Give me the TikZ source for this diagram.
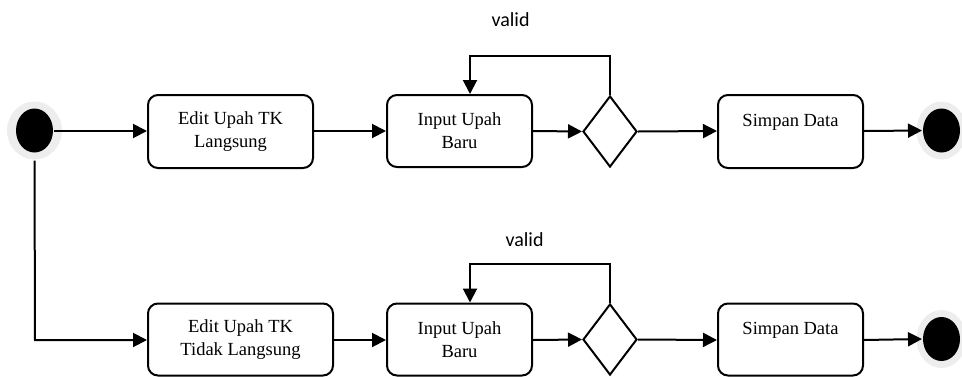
\documentclass[tikz,border=0pt]{standalone}
\usepackage{fontspec}
\setmainfont{Liberation Serif}
\newfontfamily\labelfont{Carlito}
\usetikzlibrary{shapes.geometric,arrows.meta}
\begin{document}
\begin{tikzpicture}[x=1pt,y=-1pt,
  line width=2pt,
  act/.style={draw,rounded corners=10pt,align=center,font=\fontsize{18.5}{23}\selectfont,inner sep=0pt},
  dec/.style={draw,diamond,inner sep=0pt,minimum width=54pt,minimum height=71pt},
  dot/.style={ellipse,fill=black,inner sep=0pt,minimum width=37pt,minimum height=44pt},
  halo/.style={ellipse,fill=black!7,inner sep=0pt,minimum width=55pt,minimum height=58pt},
  flow/.style={-{Triangle[length=14pt,width=14pt]}},
  lbl/.style={font=\labelfont\fontsize{20}{24}\selectfont}]
\useasboundingbox (0,0) rectangle (962,376);
% top row
\node[halo] (s1h) at (34.5,130.5) {};
\node[dot] (s1) at (34.5,130.5) {};
\node[act,minimum width=165pt,minimum height=73pt] (b1) at (230.5,131.5) {Edit Upah TK\\Langsung};
\node[act,minimum width=145pt,minimum height=72pt] (b2) at (459.5,131) {Input Upah\\Baru};
\node[dec] (d1) at (610,131.5) {};
\node[act,minimum width=145pt,minimum height=73pt] (b3) at (790.5,131.5) {Simpan Data\\\mbox{}};
\node[halo,minimum width=50pt] (e1h) at (941.5,130.5) {};
\node[dot] (e1) at (941.5,130.5) {};
\coordinate (t1) at (610,56);
\coordinate (t2) at (470,56);
\node[lbl] (v1) at (510.5,20) {valid};
% bottom row
\node[act,minimum width=185pt,minimum height=72pt] (c1) at (240.5,339.5) {Edit Upah TK\\Tidak Langsung};
\node[act,minimum width=145pt,minimum height=72pt] (c2) at (459.5,339.5) {Input Upah\\Baru};
\node[dec] (d2) at (610,339.5) {};
\node[act,minimum width=145pt,minimum height=72pt] (c3) at (790.5,339.5) {Simpan Data\\\mbox{}};
\node[halo,minimum width=50pt] (e2h) at (941.5,339) {};
\node[dot] (e2) at (941.5,339) {};
\coordinate (u1) at (610,264);
\coordinate (u2) at (470,264);
\coordinate (k) at (35,340);
\node[lbl] (v2) at (524.5,240) {valid};
% connectors top
\draw[flow] (s1.east |- 0,131) -- (b1.west |- 0,131);
\draw[flow] (b1.east |- 0,131) -- (b2.west |- 0,131);
\draw[flow] (b2.east |- 0,131) -- (d1.west);
\draw[flow] (d1.east) -- (b3.west |- 0,131);
\draw[flow] (b3.east |- 0,131) -- (e1.west);
\draw[flow] (d1.north) -- (t1) -- (t2) -- (t2 |- b2.north);
% connectors bottom
\draw[flow] (s1h.south) -- (k) -- (c1.west |- k);
\draw[flow] (c1.east |- k) -- (c2.west |- k);
\draw[flow] (c2.east |- k) -- (d2.west);
\draw[flow] (d2.east) -- (c3.west |- k);
\draw[flow] (c3.east |- k) -- (e2.west);
\draw[flow] (d2.north) -- (u1) -- (u2) -- (u2 |- c2.north);
\end{tikzpicture}
\end{document}
